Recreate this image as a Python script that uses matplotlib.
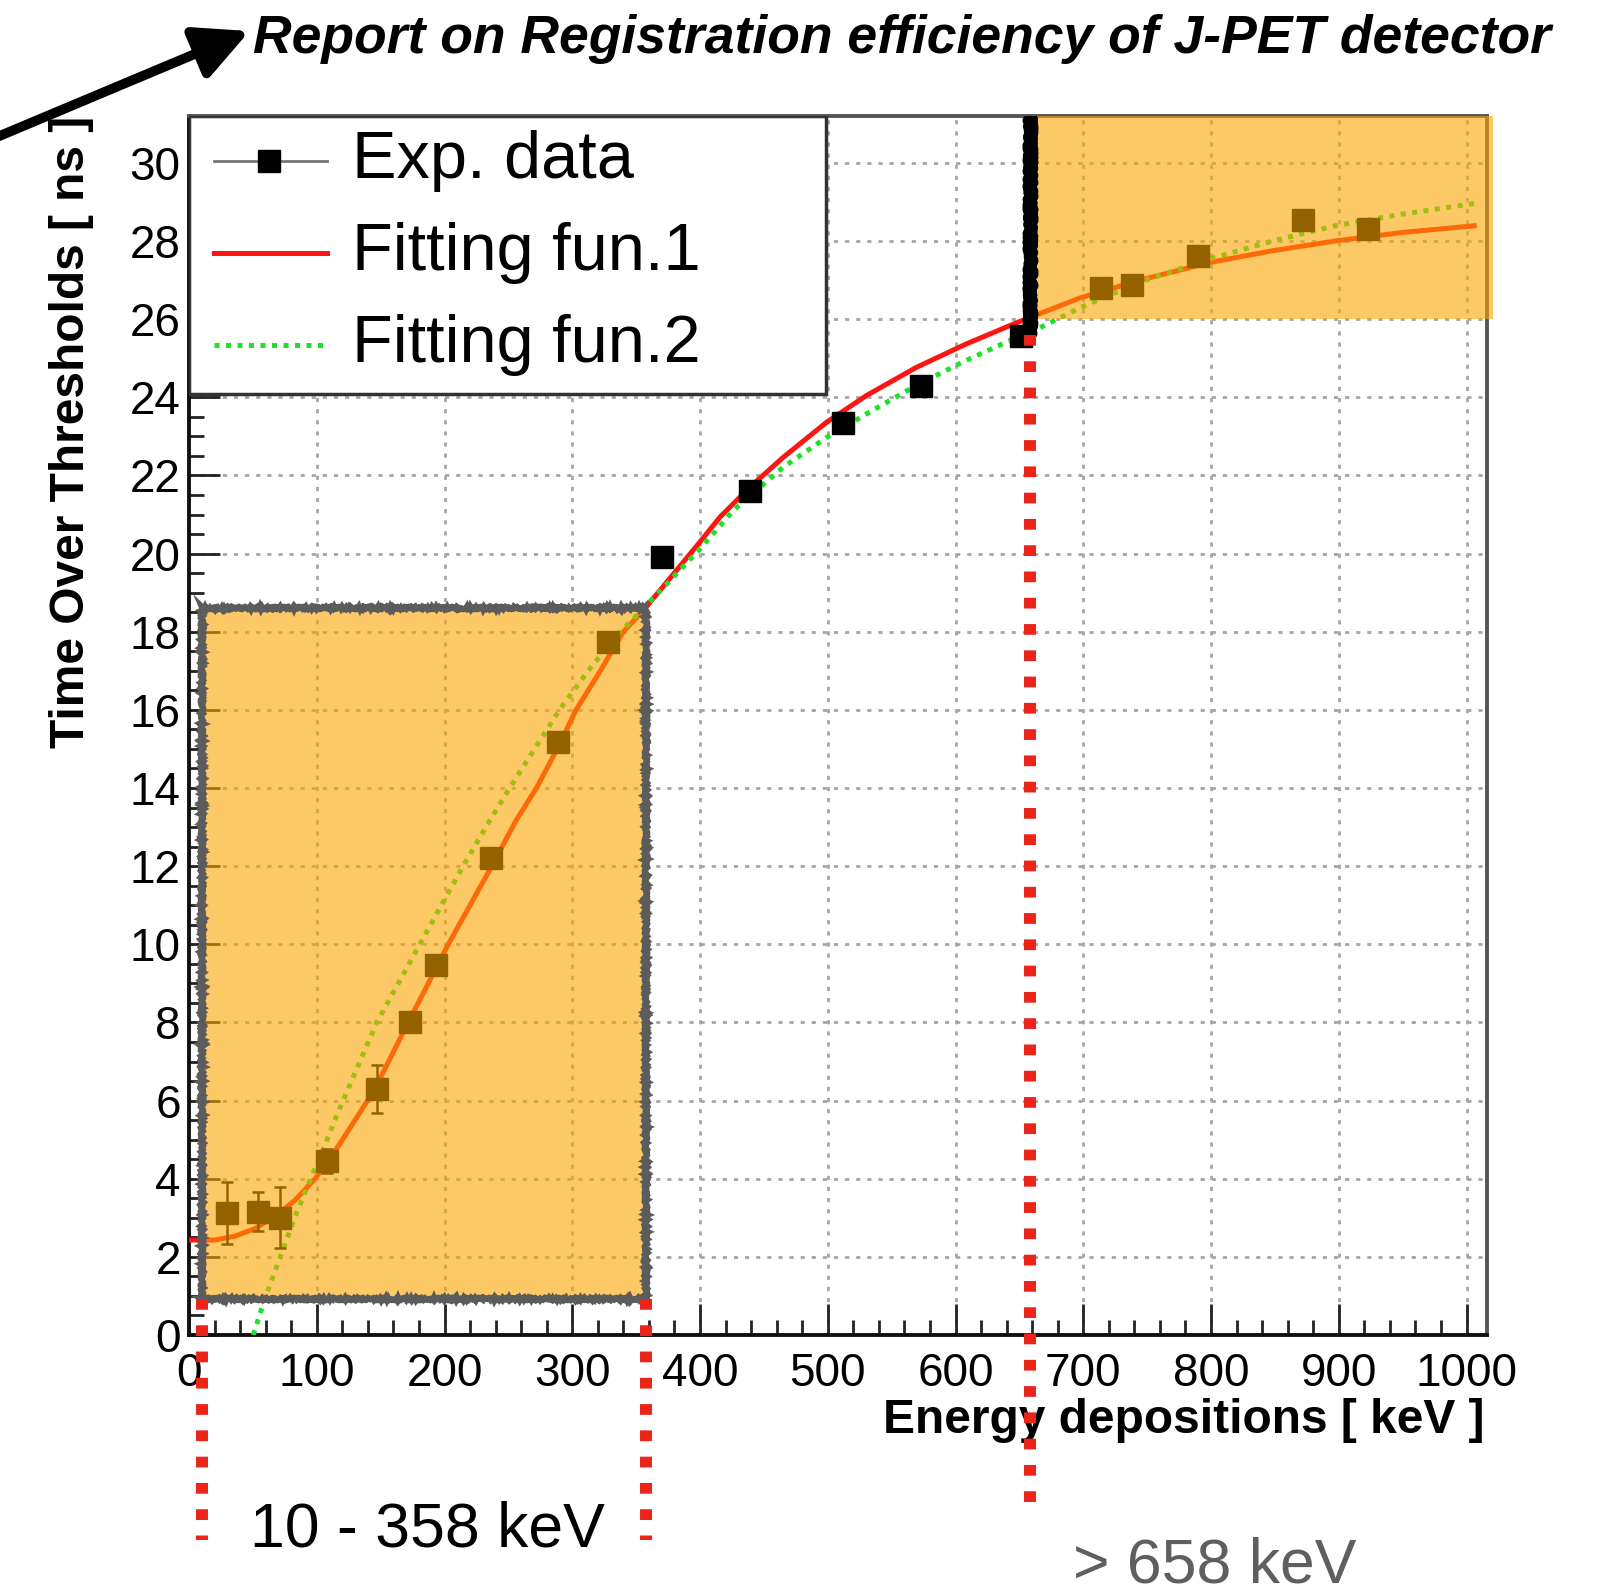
import matplotlib
matplotlib.use("Agg")
import matplotlib.pyplot as plt
from matplotlib.patches import Rectangle, FancyArrowPatch
from matplotlib.ticker import MultipleLocator

plt.rcParams['font.family'] = ['Liberation Sans', 'DejaVu Sans']

# measured ToT vs deposited energy
exp_energy = [30, 54, 71, 108, 147, 172.6, 193.5, 236, 289, 328, 370.5, 439.5,
              512, 573, 651.5, 714, 738, 790, 872, 922.5]
exp_tot = [3.12, 3.16, 3.0, 4.45, 6.3, 8.02, 9.47, 12.22, 15.18, 17.73, 19.9, 21.6,
           23.35, 24.28, 25.58, 26.8, 26.88, 27.62, 28.55, 28.3]
exp_err = [0.8, 0.5, 0.78, 0.3, 0.62, 0.2, 0.2, 0.15, 0.15, 0.15, 0.1, 0.1,
           0.1, 0.1, 0.1, 0.1, 0.1, 0.1, 0.1, 0.1]

# fitted curves, sampled
fit1_energy = [0, 5, 20, 36, 52, 67, 83, 99, 114, 130, 145.5, 171.6, 203, 237, 256,
               272, 289, 303, 322, 340, 355.5, 400, 415.5, 439, 465, 499, 530, 569,
               608, 645, 658, 698, 747, 799, 848, 897, 950, 1006]
fit1_tot = [2.43, 2.43, 2.43, 2.53, 2.73, 3.03, 3.45, 4.01, 4.69, 5.5, 6.3, 8.0, 10.0,
            12.0, 13.17, 14.0, 15.05, 16.0, 17.0, 18.0, 18.54, 20.3, 20.93, 21.7, 22.46,
            23.36, 24.04, 24.76, 25.36, 25.87, 26.04, 26.55, 27.02, 27.45, 27.75, 28.0,
            28.22, 28.39]
fit2_energy = [50.3, 59.5, 72.5, 83, 94.7, 106.4, 116.8, 147, 180.7, 214.6, 235.5, 251,
               290, 312.4, 336, 353, 400, 426, 465, 499, 530, 569, 608, 645, 666, 698,
               747, 799, 848, 897, 950, 1006]
fit2_tot = [0.0, 0.94, 2.09, 3.03, 3.96, 4.86, 5.71, 8.0, 10.0, 12.0, 13.17, 14.0,
            16.0, 17.0, 17.95, 18.5, 20.12, 21.1, 22.21, 22.97, 23.57, 24.3, 24.94, 25.49,
            25.78, 26.3, 26.98, 27.54, 28.0, 28.39, 28.69, 28.96]

# highlighted energy windows
low_window = (10, 358)
high_cut = 658

x_ticks = list(range(0, 1001, 100))
y_ticks = list(range(0, 31, 2))

fig = plt.figure(figsize=(16.13, 15.96), dpi=100)
fig.patch.set_facecolor('white')
ax = fig.add_axes([189 / 1613, 261 / 1596, 1298 / 1613, 1219 / 1596])
ax.set_xlim(0, 1016)
ax.set_ylim(0, 31.2)

ax.set_xticks(x_ticks)
ax.set_yticks(y_ticks)
ax.xaxis.set_minor_locator(MultipleLocator(20))
ax.yaxis.set_minor_locator(MultipleLocator(0.5))
ax.tick_params(which='both', direction='in', top=False, right=False, width=2, color='#222')
ax.tick_params(which='major', length=22, labelsize=33)
ax.tick_params(which='minor', length=11)
ax.tick_params(axis='x', pad=12)
ax.tick_params(axis='y', pad=6)
for side in ['left', 'bottom']:
    ax.spines[side].set_linewidth(2.8)
    ax.spines[side].set_color('#111')
for side in ['top', 'right']:
    ax.spines[side].set_linewidth(2.8)
    ax.spines[side].set_color('#555')

ax.grid(True, which='major', color='#a6a6a6', linestyle=(0, (1.5, 2.5)), linewidth=2)
ax.set_axisbelow(True)

ax.set_xlabel('Energy depositions [ keV ]', fontsize=34.5, fontweight='bold', loc='right')
ax.xaxis.set_label_coords(0.998, -0.052)
ax.set_ylabel('Time Over Thresholds [ ns ]', fontsize=34.5, fontweight='bold', loc='top')
ax.yaxis.set_label_coords(-0.073, 1.0)

# curves and points
ax.plot(fit1_energy, fit1_tot, color='#ff1414', lw=3.6, zorder=3)
ax.plot(fit2_energy, fit2_tot, color='#1fe02a', lw=3.6, linestyle=(0, (1, 1.3)), zorder=3)
ax.errorbar(exp_energy, exp_tot, yerr=exp_err, fmt='s', color='black', ms=16,
            elinewidth=1.8, capsize=4, capthick=1.8, zorder=4)

# legend box
ax.add_patch(Rectangle((0, 0.772), 0.4908, 0.228, transform=ax.transAxes,
                       facecolor='white', edgecolor='#333', lw=2.5, zorder=6))
ax.plot([0.0193, 0.1063], [0.963, 0.963], transform=ax.transAxes, color='#777', lw=2, zorder=7)
ax.plot([0.062], [0.963], 's', transform=ax.transAxes, color='black', ms=16, zorder=7)
ax.plot([0.0193, 0.1063], [0.888, 0.888], transform=ax.transAxes, color='#ff1414', lw=3.6, zorder=7)
ax.plot([0.0193, 0.1063], [0.8125, 0.8125], transform=ax.transAxes, color='#1fe02a', lw=3.6,
        linestyle=(0, (1, 1.3)), zorder=7)
for yy, lab in zip([0.963, 0.888, 0.8125], ['Exp. data', 'Fitting fun.1', 'Fitting fun.2']):
    ax.text(0.1256, yy, lab, transform=ax.transAxes, fontsize=48, va='center', ha='left', zorder=7)

# shaded windows
overlay = '#faa500'
box1 = Rectangle((low_window[0], 0.93), low_window[1] - low_window[0], 18.6 - 0.93,
                 facecolor=overlay, alpha=0.6, edgecolor='none', zorder=8)
ax.add_patch(box1)
edge1 = Rectangle((low_window[0], 0.93), low_window[1] - low_window[0], 18.6 - 0.93,
                  facecolor='none', edgecolor='#5c5c5c', lw=4.5, zorder=9)
edge1.set_sketch_params(scale=1.2, length=4, randomness=3)
ax.add_patch(edge1)

box2 = Rectangle((high_cut, 26.0), 1021 - high_cut, 31.2 - 26.0, facecolor=overlay, alpha=0.6,
                 edgecolor='none', zorder=8, clip_on=False)
ax.add_patch(box2)
cut_line, = ax.plot([high_cut, high_cut], [25.6, 31.2], color='black', lw=8, zorder=9,
                    solid_capstyle='butt')
cut_line.set_sketch_params(scale=2.5, length=6, randomness=4)

# red dotted markers below the windows
dot_style = dict(color='#ea2418', lw=8.6, linestyle=(0, (0.9, 1.3)), dash_capstyle='butt',
                 clip_on=False, zorder=10)
ax.plot([low_window[0], low_window[0]], [0.93, -5.24], **dot_style)
ax.plot([low_window[1], low_window[1]], [0.93, -5.24], **dot_style)
ax.plot([high_cut, high_cut], [25.6, -4.65], **dot_style)

fig.text(250 / 1613, 0.0414, '%d - %d keV' % low_window, fontsize=45, ha='left', va='center')
fig.text(1073 / 1613, 0.0188, '> %d keV' % high_cut, fontsize=45, ha='left', va='center',
         color='#5f5f5f')

fig.text(253 / 1613, 0.9756, 'Report on Registration efficiency of J-PET detector',
         fontsize=38.5, fontweight='bold', fontstyle='italic', ha='left', va='center')
arrow = FancyArrowPatch((-10, 1456), (252, 1566), transform=None,
                        arrowstyle='-|>,head_length=0.9,head_width=0.45',
                        mutation_scale=36, lw=7, color='black')
fig.add_artist(arrow)

fig.savefig('out.png', dpi=100)
